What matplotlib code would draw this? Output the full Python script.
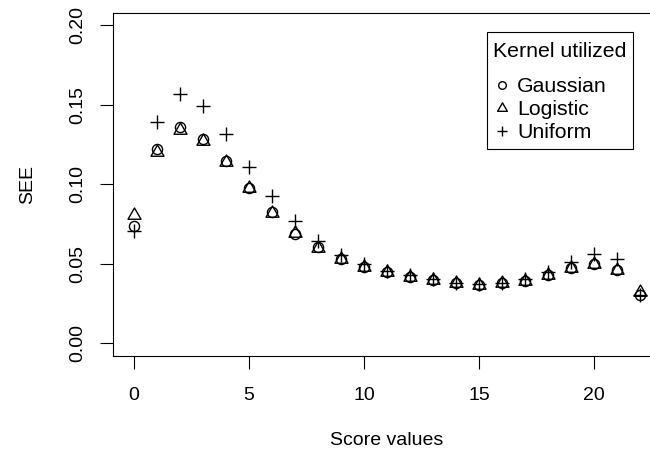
import matplotlib
matplotlib.use("Agg")
import matplotlib.pyplot as plt
import numpy as np
from matplotlib.path import Path
from matplotlib.offsetbox import DrawingArea

plt.rcParams['font.family'] = ['Liberation Sans', 'DejaVu Sans']

scores = list(range(23))
gaussian = [0.0734, 0.1224, 0.1360, 0.1287, 0.1144, 0.0978, 0.0824, 0.0688, 0.0603, 0.0527,
            0.0477, 0.0445, 0.0418, 0.0395, 0.0377, 0.0368, 0.0376, 0.0393, 0.0428, 0.0470,
            0.0495, 0.0462, 0.0300]
logistic = [0.0808, 0.1203, 0.1340, 0.1272, 0.1140, 0.0975, 0.0820, 0.0690, 0.0600, 0.0528,
            0.0477, 0.0445, 0.0418, 0.0395, 0.0377, 0.0368, 0.0376, 0.0393, 0.0428, 0.0470,
            0.0495, 0.0462, 0.0318]
uniform = [0.0708, 0.1390, 0.1567, 0.1490, 0.1314, 0.1108, 0.0923, 0.0767, 0.0640, 0.0552,
           0.0495, 0.0456, 0.0425, 0.0400, 0.0380, 0.0370, 0.0380, 0.0400, 0.0445, 0.0513,
           0.0558, 0.0530, 0.0300]
xticks = [0, 5, 10, 15, 20]
yticks = [0.00, 0.05, 0.10, 0.15, 0.20]
ytick_labels = ["0.00", "0.05", "0.10", "0.15", "0.20"]

W, H = 650, 457
fig = plt.figure(figsize=(W / 100, H / 100), dpi=100)
left, right, top, bottom = 113.4, 660.6, 12.6, 355.7
ax = fig.add_axes([left / W, (H - bottom) / H, (right - left) / W, (bottom - top) / H])

tri = Path([(0, 1.1547), (-1, -0.57735), (1, -0.57735), (0, 1.1547)],
           [Path.MOVETO, Path.LINETO, Path.LINETO, Path.CLOSEPOLY])

ax.plot(scores, gaussian, linestyle='none', marker='o', ms=7.3, mfc='none', mec='black', mew=1.0,
        label='Gaussian')
ax.plot(scores, logistic, linestyle='none', marker=tri, ms=10.8, mfc='none', mec='black', mew=1.0,
        label='Logistic')
ax.plot(scores, uniform, linestyle='none', marker='+', ms=10, mec='black', mew=1.0,
        label='Uniform')

ax.set_xlim(-0.88, 22.88)
ax.set_ylim(-0.008, 0.208)
ax.set_xticks(xticks)
ax.set_xticklabels([str(v) for v in xticks])
ax.set_yticks(yticks)
ax.set_yticklabels(ytick_labels, rotation=90, va='center')
ax.tick_params(axis='both', direction='out', length=9.4, width=0.8, labelsize=14, colors='black')
ax.tick_params(axis='x', pad=13)
ax.tick_params(axis='y', pad=10)
for s in ax.spines.values():
    s.set_linewidth(0.8)
    s.set_color('black')

ax.set_xlabel('Score values', fontsize=14, labelpad=20)
ax.set_ylabel('SEE', fontsize=14, labelpad=24)

ax_w = right - left
ax_h = bottom - top
lfs = 15.3
lfs_px = lfs * 100 / 72
leg = ax.legend(title='Kernel utilized', loc='upper right',
                bbox_to_anchor=((633 - left) / ax_w, (bottom - 31.7) / ax_h),
                borderaxespad=0, fontsize=lfs, title_fontsize=lfs, frameon=True,
                fancybox=False, framealpha=1, edgecolor='black', markerscale=0.75,
                handlelength=18 / lfs_px, handletextpad=6 / lfs_px,
                labelspacing=4.0 / lfs_px, borderpad=6.5 / lfs_px, alignment='left')
leg.get_frame().set_linewidth(0.8)
# extra gap between the legend title and the entries, and a little more room above the title
sep_px = 16
leg._legend_box.sep = sep_px * 0.72
try:
    spacer = DrawingArea(0, (4 - sep_px) * 0.72)
    spacer.set_figure(fig)
    leg._legend_box._children.insert(0, spacer)
except Exception:
    pass

fig.savefig('out.png', dpi=100)
